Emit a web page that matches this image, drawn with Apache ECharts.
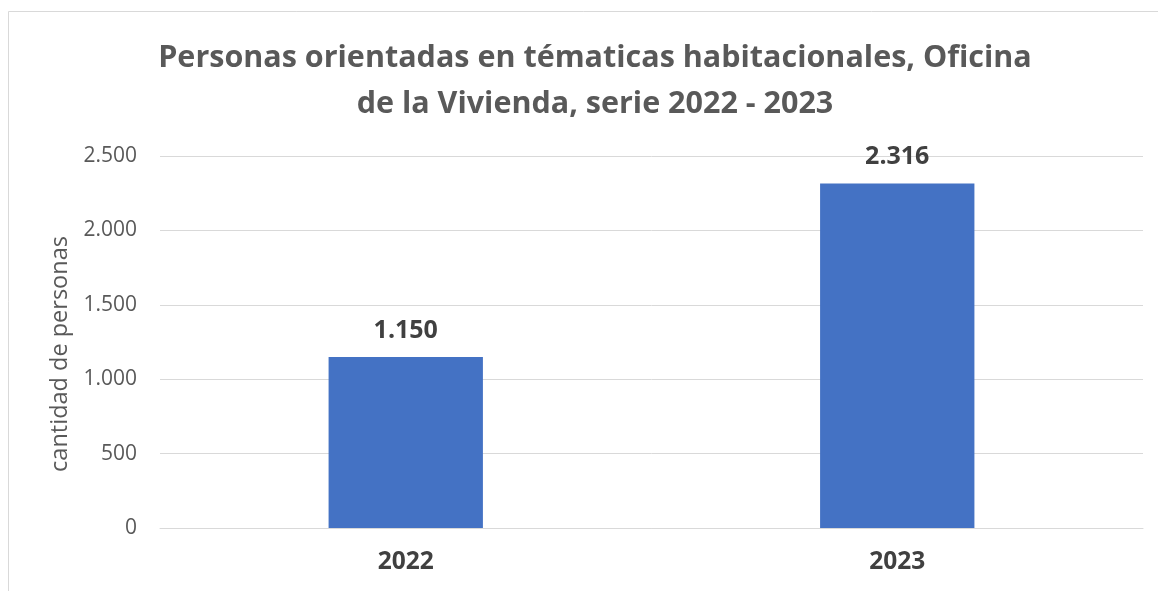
<!DOCTYPE html>
<html><head><meta charset="utf-8">
<script src="https://cdn.jsdelivr.net/npm/echarts@6/dist/echarts.min.js"></script>
<style>html,body{margin:0;padding:0;background:#fff}#c{width:1158px;height:591px}</style>
</head><body><div id="c"></div>
<script>
const titleText = "Personas orientadas en tématicas habitacionales, Oficina\nde la Vivienda, serie 2022 - 2023";
const yAxisName = "cantidad de personas";
const categories = ["2022", "2023"];
const values = [1150, 2316];
const yTicks = [0, 500, 1000, 1500, 2000, 2500];

function fmt(v){ return String(v).replace(/\B(?=(\d{3})+(?!\d))/g, "."); }
const FONT = "'Open Sans', 'Noto Sans', sans-serif";
const chart = echarts.init(document.getElementById('c'));
chart.setOption({
  animation:false,
  backgroundColor:'#fff',
  graphic:[{type:'rect',shape:{x:8.5,y:11.5,width:1300,height:700},style:{fill:'none',stroke:'#d9d9d9',lineWidth:1}}],
  title:{text:titleText,left:590,textAlign:'center',top:30,
    textStyle:{fontFamily:FONT,fontSize:30.5,fontWeight:'bold',color:'#595959',lineHeight:46}},
  grid:{left:160,right:15,top:156,bottom:63},
  xAxis:{type:'category',data:categories,
    axisLine:{show:true,lineStyle:{color:'#d9d9d9'}},axisTick:{show:false},
    axisLabel:{fontFamily:FONT,fontSize:24.5,fontWeight:'bold',color:'#404040',margin:22}},
  yAxis:{type:'value',min:yTicks[0],max:yTicks[yTicks.length-1],interval:500,
    name:yAxisName,nameLocation:'middle',nameGap:76,nameRotate:90,
    nameTextStyle:{fontFamily:FONT,fontSize:23.5,color:'#595959',padding:[0,24,0,0]},
    axisLine:{show:false},axisTick:{show:false},
    splitLine:{lineStyle:{color:'#d9d9d9',width:1}},
    axisLabel:{fontFamily:FONT,fontSize:21,color:'#595959',margin:23,formatter:fmt}},
  series:[{type:'bar',data:values,barWidth:'31.4%',
    itemStyle:{color:'#4472c4'},
    label:{show:true,position:'top',distance:14,fontFamily:FONT,fontSize:25,fontWeight:'bold',color:'#404040',
      formatter:p=>fmt(p.value)}}]
});
</script></body></html>
